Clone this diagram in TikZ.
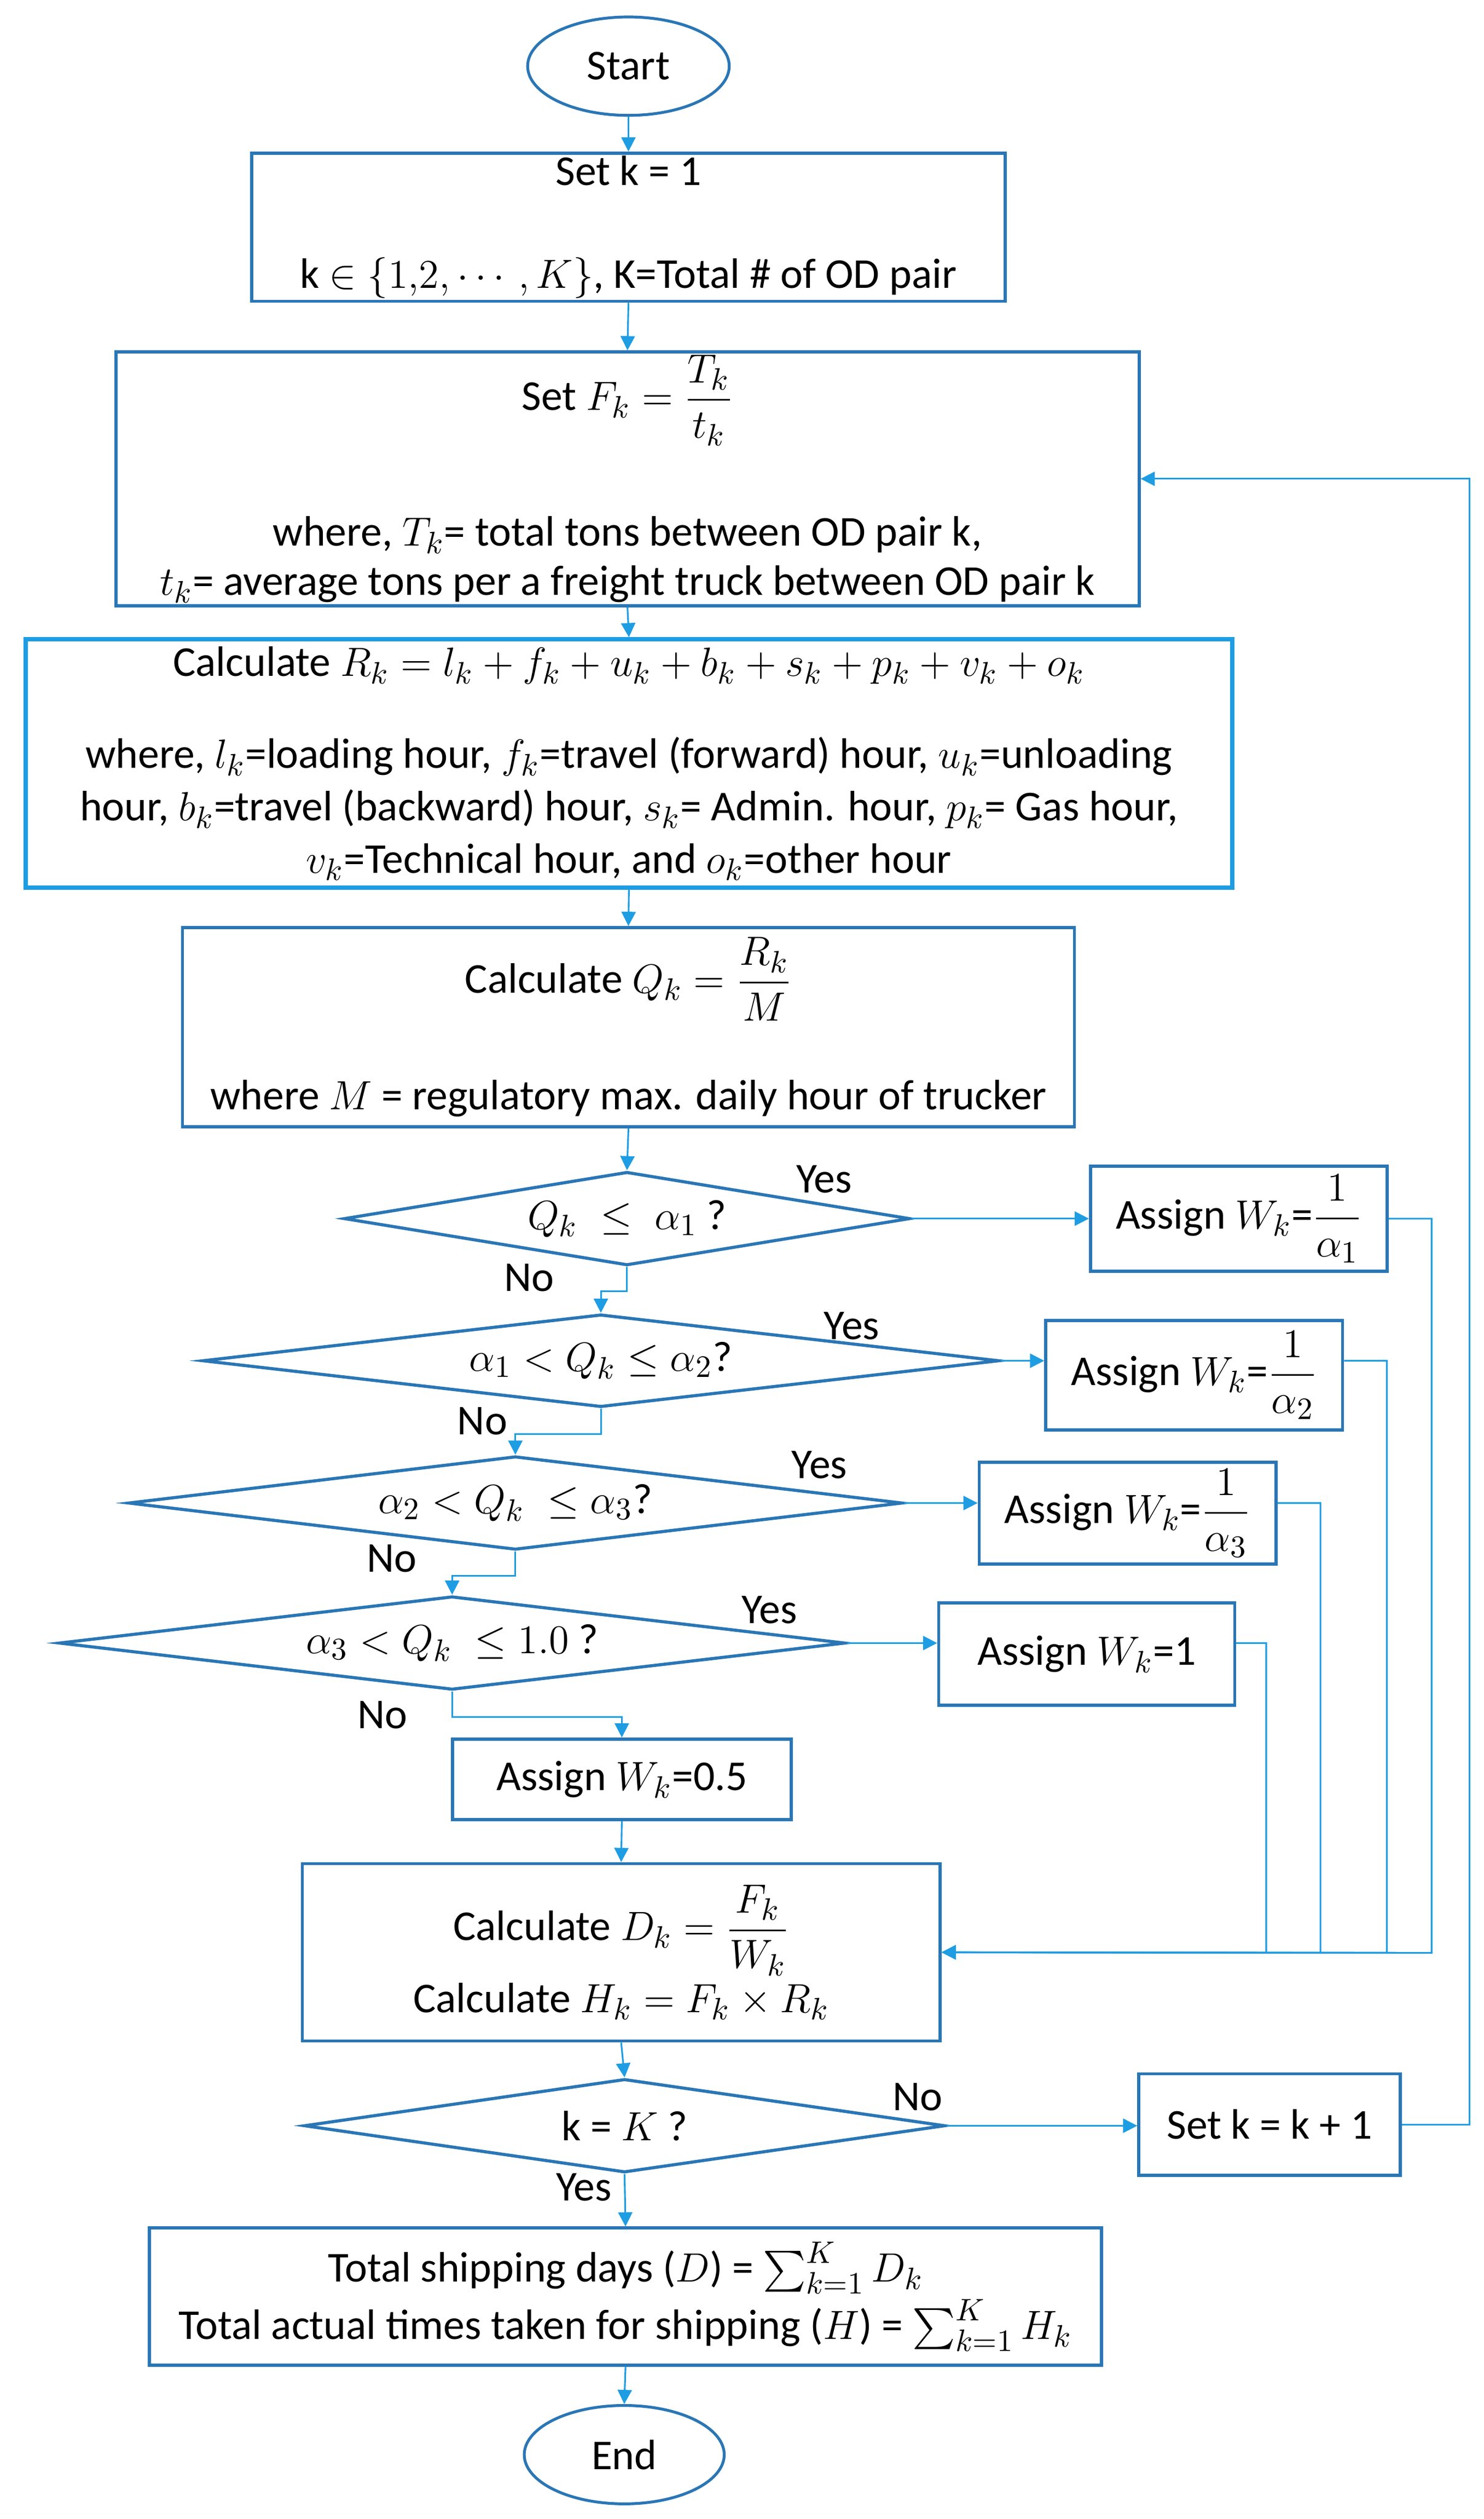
\documentclass[tikz,border=0pt]{standalone}
\usepackage{fontspec}
\setmainfont{Carlito}
\usepackage{amsmath}
\usetikzlibrary{shapes.geometric,arrows.meta}
\definecolor{boxblue}{HTML}{2A76B5}
\definecolor{lineblue}{HTML}{1E9DE3}

\begin{document}
\begin{tikzpicture}
  [x=0.02cm,y=-0.02cm,
   every node/.style={font=\fontsize{15}{17.5}\selectfont},
   proc/.style={draw=boxblue,line width=1.1pt,rectangle,align=center,inner sep=1pt},
   decide/.style={draw=boxblue,line width=1.1pt,diamond,aspect=6,inner sep=0pt},
   term/.style={draw=boxblue,line width=1pt,ellipse},
   link/.style={draw=lineblue,line width=0.6pt,-{Triangle[length=5pt,width=5pt]}},
   wire/.style={draw=lineblue,line width=0.6pt}]
  \useasboundingbox (0,0) rectangle (920,1561.5);

  \node[term,minimum width=2.5cm,minimum height=1.22cm] (start) at (389.6,41) {Start};
  \node[proc,minimum width=9.34cm,minimum height=1.82cm] (set1) at (389.6,140.8)
    {Set k = 1\\[0.66cm] k $\in\{1{,}2{,}\cdots,K\}$, K=Total \# of OD pair};
  \node[proc,minimum width=12.69cm,minimum height=3.07cm] (setF) at (389,296.8)
    {Set $F_k=\dfrac{T_k}{t_k}$\\[0.84cm] where, $T_k$= total tons between OD pair k,\\
     $t_k$= average tons per a freight truck between OD pair k};
  \node[proc,draw=lineblue,line width=1.5pt,font=\fontsize{15}{18.5}\selectfont,
        minimum width=14.96cm,minimum height=3.08cm] (calcR) at (389.9,473.3)
    {Calculate $R_k=l_k+f_k+u_k+b_k+s_k+p_k+v_k+o_k$\\[0.49cm]
     where, $l_k$=loading hour, $f_k$=travel (forward) hour, $u_k$=unloading\\
     hour, $b_k$=travel (backward) hour, $s_k$= Admin. hour, $p_k$= Gas hour,\\
     $v_k$=Technical hour, and $o_k$=other hour};
  \node[proc,minimum width=11.06cm,minimum height=2.47cm] (calcQ) at (389.6,636.7)
    {Calculate $Q_k=\dfrac{R_k}{M}$\\[0.7cm] where $M$ = regulatory max. daily hour of trucker};

  % checks on Q_k
  \node[decide,minimum width=7.02cm,minimum height=1.16cm] (d1) at (388.7,755.4) {$Q_k\;\le\;\alpha_1$ ?};
  \node[decide,minimum width=9.88cm,minimum height=1.15cm] (d2) at (372.5,843.5) {$\alpha_1<Q_k\le\alpha_2$?};
  \node[decide,minimum width=9.6cm,minimum height=1.16cm] (d3) at (319.5,931.7) {$\alpha_2<Q_k\;\le\alpha_3$?};
  \node[decide,minimum width=9.75cm,minimum height=1.16cm] (d4) at (280.3,1018.5) {$\alpha_3<Q_k\;\le1.0$ ?};

  \node[proc,minimum width=3.68cm,minimum height=1.3cm] (w1) at (768,755.5) {Assign $W_k$=$\dfrac{1}{\alpha_1}$};
  \node[proc,minimum width=3.68cm,minimum height=1.36cm] (w2) at (740.3,852.5) {Assign $W_k$=$\dfrac{1}{\alpha_2}$};
  \node[proc,minimum width=3.68cm,minimum height=1.26cm] (w3) at (699,938) {Assign $W_k$=$\dfrac{1}{\alpha_3}$};
  \node[proc,minimum width=3.67cm,minimum height=1.27cm] (w4) at (673.7,1025.4) {Assign $W_k$=1};
  \node[proc,minimum width=4.2cm,minimum height=1.0cm] (w5) at (385.5,1103) {Assign $W_k$=0.5};

  \node[proc,minimum width=7.91cm,minimum height=2.2cm] (calcD) at (385.1,1210.2)
    {Calculate $D_k=\dfrac{F_k}{W_k}$\\[0.05cm] Calculate $H_k=F_k\times R_k$};
  \node[decide,minimum width=7.95cm,minimum height=1.16cm] (d5) at (387.2,1317.7) {k = $K$ ?};
  \node[proc,minimum width=3.24cm,minimum height=1.26cm] (inc) at (787,1317) {Set k = k + 1};
  \node[proc,minimum width=11.81cm,minimum height=1.7cm] (total) at (387.8,1423.6)
    {Total shipping days ($D$) = $\sum_{k=1}^{K}D_k$\\[1pt]
     Total actual times taken for shipping ($H$) = $\sum_{k=1}^{K}H_k$};
  \node[term,minimum width=2.48cm,minimum height=1.22cm] (end) at (387,1521.6) {End};

  % branch labels
  \node (yes1) at (511,731) {Yes};
  \node (no1) at (328,792) {No};
  \node (yes2) at (528,822) {Yes};
  \node (no2) at (299,881) {No};
  \node (yes3) at (508,908) {Yes};
  \node (no3) at (243,966) {No};
  \node (yes4) at (477,998) {Yes};
  \node (no4) at (237,1063) {No};
  \node (no5) at (569,1300) {No};
  \node (yes5) at (362,1356) {Yes};

  \coordinate (r1) at (887.5,1210.5);
  \coordinate (r2) at (859.8,1210.5);
  \coordinate (r3) at (818.6,1210.5);
  \coordinate (r4) at (785,1210.5);
  \coordinate (back) at (911,800);

  \foreach \from/\to in {start/set1, set1/setF, setF/calcR, calcR/calcQ, calcQ/d1,
                         w5/calcD, calcD/d5, d5/total, total/end}
    \draw[link] (\from.south) -- (\to.north);

  \foreach \from/\to in {d1/w1, d2/w2, d3/w3, d4/w4, d5/inc}
    \draw[link] (\from.east) -- (\from.east -| \to.west);

  \draw[link] (d1.south) -- ++(0,15) -| (d2.north);
  \draw[link] (d2.south) -- ++(0,15.7) -| (d3.north);
  \draw[link] (d3.south) -- ++(0,15.2) -| (d4.north);
  \draw[link] (d4.south) -- ++(0,15.8) -| (w5.north);

  \foreach \from/\via/\dec in {w1/r1/d1, w2/r2/d2, w3/r3/d3, w4/r4/d4}
    \draw[link] (\from.east |- \dec.east) -| (\via) -- (calcD.east);

  \draw[link] (inc.east) -| (back) |- (setF.east);
\end{tikzpicture}
\end{document}
